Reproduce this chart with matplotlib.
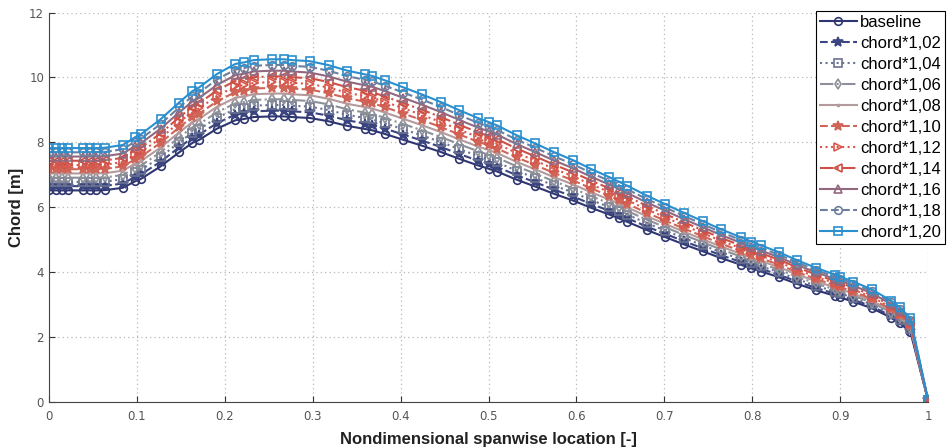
import numpy as np
from matplotlib import pyplot as plt

# spanwise stations (nondimensional) and baseline chord [m]
span = [0, 0.008, 0.015, 0.022, 0.039, 0.047, 0.054, 0.064, 0.084, 0.098,
        0.105, 0.127, 0.148, 0.163, 0.171, 0.191, 0.212, 0.222, 0.233, 0.254,
        0.267, 0.276, 0.297, 0.318, 0.339, 0.360, 0.368, 0.382, 0.403, 0.424,
        0.446, 0.467, 0.488, 0.500, 0.510, 0.532, 0.553, 0.574, 0.596, 0.617,
        0.637, 0.648, 0.658, 0.680, 0.701, 0.722, 0.744, 0.765, 0.787, 0.799,
        0.810, 0.830, 0.851, 0.872, 0.894, 0.900, 0.915, 0.936, 0.958, 0.968,
        0.980, 1.0]
baseline = [6.52, 6.52, 6.52, 6.52, 6.52, 6.52, 6.52, 6.53, 6.60, 6.80,
            6.88, 7.26, 7.69, 7.98, 8.08, 8.42, 8.68, 8.72, 8.78, 8.80,
            8.80, 8.78, 8.75, 8.65, 8.51, 8.41, 8.37, 8.26, 8.08, 7.90,
            7.70, 7.49, 7.29, 7.19, 7.10, 6.85, 6.64, 6.42, 6.21, 5.98,
            5.78, 5.66, 5.55, 5.30, 5.08, 4.86, 4.64, 4.43, 4.23, 4.12,
            4.02, 3.85, 3.64, 3.45, 3.27, 3.22, 3.09, 2.89, 2.60, 2.43,
            2.15, 0.05]

# scale factors applied to the baseline chord (as given in the legend)
factors = [1.00, 1.02, 1.04, 1.06, 1.08, 1.10, 1.12, 1.14, 1.16, 1.18, 1.20]
labels = ['baseline', 'chord*1,02', 'chord*1,04', 'chord*1,06', 'chord*1,08',
          'chord*1,10', 'chord*1,12', 'chord*1,14', 'chord*1,16', 'chord*1,18',
          'chord*1,20']

colors = ['#2e3570', '#3b4680', '#6a7390', '#8d9098', '#b39a9c', '#cf6457',
          '#d8574c', '#cc5046', '#93687e', '#6d7f9e', '#2a8fcf']
styles = ['-', '--', ':', '-.', '-', '--', ':', '-.', '-', '--', '-']
markers = ['o', '*', 's', 'd', '.', '*', '>', '<', '^', 'o', 's']

fig = plt.figure(figsize=(9.47, 4.48), dpi=100)
ax = fig.add_axes([0.0517, 0.1027, 0.9283, 0.8693])

x = np.array(span)
base = np.array(baseline)
for f, lab, c, ls, mk in zip(factors, labels, colors, styles, markers):
    ms = 5.5
    if mk == '*':
        ms = 7
    if mk == '.':
        ms = 3
    ax.plot(x, base * f, color=c, linestyle=ls, marker=mk, markersize=ms,
            markerfacecolor='none' if mk not in ('*', '.') else c,
            markeredgewidth=1.2, linewidth=1.5, label=lab)

ax.set_xlim(0, 1)
ax.set_ylim(0, 12)
ax.set_xticks(np.arange(0, 1.01, 0.1))
ax.set_xticklabels(['0', '0.1', '0.2', '0.3', '0.4', '0.5', '0.6', '0.7',
                    '0.8', '0.9', '1'])
ax.set_yticks(np.arange(0, 13, 2))
ax.grid(True, linestyle=(0, (1, 2.5)), color='#b8b8b8', linewidth=0.9)
ax.tick_params(direction='in', labelsize=8.5, labelcolor='#555555',
               color='#333333', length=4)
ax.tick_params(axis='x', pad=6)
for s in ['top', 'right']:
    ax.spines[s].set_visible(False)
for s in ['left', 'bottom']:
    ax.spines[s].set_color('#444444')

ax.set_xlabel('Nondimensional spanwise location [-]', fontsize=12,
              fontweight='bold', family='Liberation Sans', color='#222222',
              labelpad=6)
ax.set_ylabel('Chord [m]', fontsize=12, fontweight='bold',
              family='Liberation Sans', color='#222222', labelpad=4)

leg = ax.legend(loc='upper right', bbox_to_anchor=(945 / 947, 437 / 448),
                bbox_transform=fig.transFigure,
                prop={'family': 'Liberation Sans', 'size': 12},
                frameon=True, fancybox=False, borderpad=0.25,
                labelspacing=0.36, handlelength=2.2, handletextpad=0.2,
                borderaxespad=0)
leg.get_frame().set_edgecolor('black')
leg.get_frame().set_linewidth(0.8)
leg.get_frame().set_alpha(1)

fig.savefig('out.png', dpi=100)
